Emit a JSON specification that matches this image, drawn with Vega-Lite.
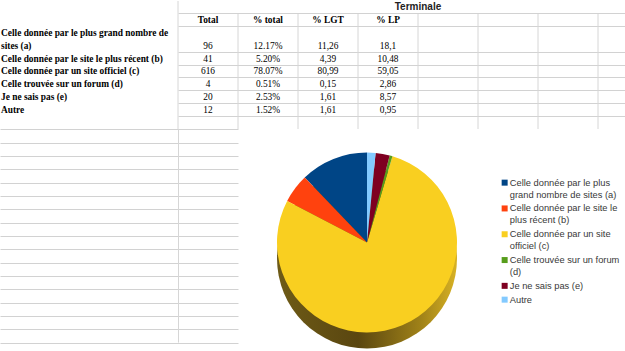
{
  "$schema": "https://vega.github.io/schema/vega-lite/v6.json",
  "padding": 0,
  "background": "white",
  "spacing": 0,
  "bounds": "flush",
  "config": {
    "view": {"stroke": null},
    "concat": {"spacing": 0},
    "axis": {"gridColor": "#d2d2d2", "gridWidth": 1}
  },
  "datasets": {
    "rows": [
      {"key": "a", "label": "Celle donnée par le plus grand nombre de sites (a)", "n": 1, "Total": 96, "% total": "12.17%", "% LGT": "11,26", "% LP": "18,1"},
      {"key": "b", "label": "Celle donnée par le site le plus récent (b)", "n": 2, "Total": 41, "% total": "5.20%", "% LGT": "4,39", "% LP": "10,48"},
      {"key": "c", "label": "Celle donnée par un site officiel (c)", "n": 3, "Total": 616, "% total": "78.07%", "% LGT": "80,99", "% LP": "59,05"},
      {"key": "d", "label": "Celle trouvée sur un forum (d)", "n": 4, "Total": 4, "% total": "0.51%", "% LGT": "0,15", "% LP": "2,86"},
      {"key": "e", "label": "Je ne sais pas (e)", "n": 5, "Total": 20, "% total": "2.53%", "% LGT": "1,61", "% LP": "8,57"},
      {"key": "Autre", "label": "Autre", "n": 6, "Total": 12, "% total": "1.52%", "% LGT": "1,61", "% LP": "0,95"}
    ],
    "columns": [
      {"col": "Total", "head": "Total"},
      {"col": "% total", "head": "% total"},
      {"col": "% LGT", "head": "% LGT"},
      {"col": "% LP", "head": "% LP"},
      {"col": "F", "head": ""},
      {"col": "G", "head": ""},
      {"col": "H", "head": ""},
      {"col": "I", "head": ""}
    ],
    "cells": [
      {"line": "a1", "text": "Celle donnée par le plus grand nombre de"},
      {"line": "a", "text": "sites (a)"},
      {"line": "b", "text": "Celle donnée par le site le plus récent (b)"},
      {"line": "c", "text": "Celle donnée par un site officiel (c)"},
      {"line": "d", "text": "Celle trouvée sur un forum (d)"},
      {"line": "e", "text": "Je ne sais pas (e)"},
      {"line": "Autre", "text": "Autre"}
    ]
  },
  "vconcat": [
    {
      "width": 625,
      "height": 128,
      "resolve": {"scale": {"x": "independent"}},
      "layer": [
        {
          "layer": [
            {
              "data": {"name": "columns"},
              "mark": {"type": "rule", "color": "#d6d6d6", "strokeWidth": 1},
              "encoding": {
                "x": {"field": "col", "type": "nominal", "bandPosition": 0,
                      "scale": {"type": "band", "domain": ["Total", "% total", "% LGT", "% LP", "F", "G", "H", "I"], "range": [178, 658], "paddingInner": 0, "paddingOuter": 0},
                      "axis": null},
                "y": {"datum": "header", "type": "nominal", "bandPosition": 0,
                      "scale": {"type": "band", "domain": ["title", "header", "a1", "a", "b", "c", "d", "e", "Autre", "r9"], "paddingInner": 0, "paddingOuter": 0},
                      "axis": {"values": ["title", "header", "a", "b", "c", "d", "e", "Autre"], "bandPosition": 1, "grid": true, "labels": false, "ticks": false, "domain": false, "title": null}},
                "y2": {"datum": "r9", "bandPosition": 1}
              }
            },
            {
              "data": {"values": [{}]},
              "mark": {"type": "rule", "color": "#d6d6d6", "strokeWidth": 1},
              "encoding": {
                "x": {"datum": "Total", "type": "nominal", "bandPosition": 0},
                "y": {"datum": "title", "type": "nominal", "bandPosition": 0},
                "y2": {"datum": "header", "bandPosition": 0}
              }
            },
            {
              "data": {"name": "rows"},
              "transform": [{"fold": ["Total", "% total", "% LGT", "% LP"], "as": ["col", "value"]}],
              "mark": {"type": "text", "font": "Liberation Serif", "fontSize": 9.4, "color": "#000000", "baseline": "middle"},
              "encoding": {
                "x": {"field": "col", "type": "nominal"},
                "y": {"field": "key", "type": "nominal"},
                "text": {"field": "value", "type": "nominal"}
              }
            },
            {
              "data": {"name": "columns"},
              "transform": [{"filter": "datum.head != ''"}],
              "mark": {"type": "text", "font": "Liberation Serif", "fontWeight": "bold", "fontSize": 9.4, "color": "#000000", "baseline": "middle"},
              "encoding": {
                "x": {"field": "col", "type": "nominal"},
                "y": {"datum": "header", "type": "nominal"},
                "text": {"field": "head", "type": "nominal"}
              }
            },
            {
              "data": {"values": [{"section": "Terminale"}]},
              "mark": {"type": "text", "font": "Liberation Sans", "fontWeight": "bold", "fontSize": 10, "color": "#222222", "baseline": "middle"},
              "encoding": {
                "x": {"datum": "F", "type": "nominal", "bandPosition": 0},
                "y": {"datum": "title", "type": "nominal"},
                "text": {"field": "section", "type": "nominal"}
              }
            }
          ]
        },
        {
          "data": {"name": "cells"},
          "mark": {"type": "text", "font": "Liberation Serif", "fontWeight": "bold", "fontSize": 9.4, "color": "#000000", "baseline": "middle", "align": "left", "dx": 1},
          "encoding": {
            "x": {"datum": "A", "type": "nominal", "bandPosition": 0,
                  "scale": {"type": "band", "domain": ["A"], "range": [0, 178]}, "axis": null},
            "y": {"field": "line", "type": "nominal"},
            "text": {"field": "text", "type": "nominal"}
          }
        }
      ]
    },
    {
      "spacing": 0,
      "hconcat": [
        {
          "width": 238,
          "height": 223,
          "data": {"values": [{}]},
          "mark": {"type": "rule", "color": "#d6d6d6", "strokeWidth": 1},
          "encoding": {
            "x": {"datum": "Total", "type": "nominal", "bandPosition": 0,
                  "scale": {"type": "band", "domain": ["A", "A2", "A3", "Total"], "range": [0, 238], "paddingInner": 0, "paddingOuter": 0}, "axis": null},
            "y": {"datum": "9", "type": "nominal",
                  "scale": {"type": "point", "domain": ["9", "10", "11", "12", "13", "14", "15", "16", "17", "18", "19", "20", "21", "22", "23", "24", "25"], "range": [0.3, 213.6], "padding": 0},
                  "axis": {"grid": true, "labels": false, "ticks": false, "domain": false, "title": null}},
            "y2": {"datum": "25"}
          }
        },
        {
          "width": 258,
          "height": 223,
          "layer": [
            {
              "data": {"values": [{}]},
              "mark": {"type": "arc", "radius": 90, "theta": 0, "theta2": 6.283185307179586, "yOffset": 18,
                       "color": {"gradient": "linear", "x1": 0, "x2": 1, "y1": 0, "y2": 0,
                                 "stops": [{"offset": 0, "color": "#6e5b17"}, {"offset": 0.45, "color": "#5a4610"}, {"offset": 0.8, "color": "#a08218"}, {"offset": 1, "color": "#d8b224"}]}},
              "encoding": {}
            },
            {
              "data": {"name": "rows"},
              "mark": {"type": "arc", "radius": 90, "yOffset": 2},
              "encoding": {
                "theta": {"field": "Total", "type": "quantitative", "stack": true,
                          "scale": {"range": [6.283185307179586, 0]}},
                "order": {"field": "n", "type": "quantitative"},
                "color": {
                  "field": "label", "type": "nominal",
                  "scale": {
                    "domain": ["Celle donnée par le plus grand nombre de sites (a)", "Celle donnée par le site le plus récent (b)", "Celle donnée par un site officiel (c)", "Celle trouvée sur un forum (d)", "Je ne sais pas (e)", "Autre"],
                    "range": ["#004586", "#ff420e", "#f9cf20", "#579d1c", "#7e0021", "#83caff"]
                  },
                  "legend": {
                    "orient": "none", "legendX": 500, "legendY": 177, "padding": 0,
                    "title": null, "symbolType": "square", "symbolSize": 36, "symbolStrokeWidth": 0,
                    "labelFont": "Liberation Sans", "labelFontSize": 9.3, "labelColor": "#383838", "labelOffset": 0.5, "labelLimit": 0,
                    "labelBaseline": "middle", "rowPadding": 3.8,
                    "labelExpr": "datum.label == 'Celle donnée par le plus grand nombre de sites (a)' ? ['Celle donnée par le plus', 'grand nombre de sites (a)'] : datum.label == 'Celle donnée par le site le plus récent (b)' ? ['Celle donnée par le site le', 'plus récent (b)'] : datum.label == 'Celle donnée par un site officiel (c)' ? ['Celle donnée par un site', 'officiel (c)'] : datum.label == 'Celle trouvée sur un forum (d)' ? ['Celle trouvée sur un forum', '(d)'] : datum.label",
                    "encode": {"labels": {"update": {"lineHeight": {"value": 12}}}}
                  }
                }
              }
            }
          ]
        }
      ]
    }
  ]
}
